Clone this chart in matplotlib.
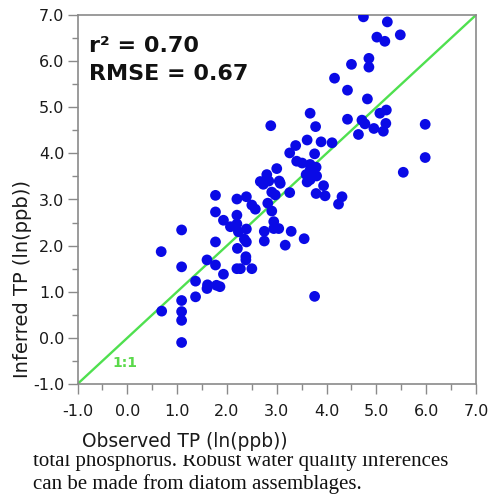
import matplotlib
matplotlib.use("Agg")
import matplotlib.pyplot as plt
from matplotlib.patches import Rectangle
from matplotlib.ticker import MultipleLocator, FormatStrFormatter

plt.rcParams['axes.unicode_minus'] = False
plt.rcParams['font.family'] = ['DejaVu Sans']

# Observed vs inferred TP (ln(ppb))
observed = [4.74, 5.22, 5.01, 5.17, 5.48, 4.85, 4.50, 4.85, 4.16, 4.42,
            4.82, 3.67, 4.42, 4.71, 5.07, 5.20, 5.19, 5.98, 3.78, 4.77,
            4.95, 5.14, 4.64, 2.88, 3.61, 3.89, 4.11, 5.98, 5.54, 3.38,
            3.26, 3.76, 3.40, 3.51, 3.67, 3.79, 3.67, 3.00, 2.80, 2.67,
            2.73, 2.84, 3.05, 3.07, 3.59, 3.80, 3.67, 3.61, 3.94, 3.26,
            2.90, 2.97, 3.79, 3.97, 4.31, 4.24, 1.77, 2.20, 2.39, 2.50,
            2.57, 2.82, 2.90, 1.77, 2.20, 1.93, 2.94, 2.94, 3.04, 2.07,
            2.20, 2.23, 2.39, 2.75, 2.75, 3.29, 3.17, 3.55, 1.09, 2.35,
            2.39, 2.21, 1.77, 0.68, 2.38, 2.38, 1.60, 1.77, 1.09, 1.93,
            2.20, 2.27, 2.50, 1.37, 1.61, 1.60, 1.79, 1.86, 1.37, 1.09,
            0.69, 1.09, 1.09, 1.09, 3.76]
inferred = [6.96, 6.85, 6.52, 6.43, 6.57, 6.06, 5.93, 5.87, 5.63, 5.37,
            5.18, 4.87, 4.74, 4.72, 4.87, 4.94, 4.65, 4.63, 4.58, 4.64,
            4.54, 4.48, 4.41, 4.60, 4.29, 4.25, 4.23, 3.91, 3.59, 4.17,
            4.01, 3.99, 3.83, 3.79, 3.76, 3.70, 3.64, 3.67, 3.54, 3.39,
            3.33, 3.40, 3.40, 3.35, 3.54, 3.51, 3.43, 3.38, 3.30, 3.15,
            3.16, 3.10, 3.13, 3.08, 3.06, 2.90, 3.09, 3.01, 3.06, 2.88,
            2.79, 2.92, 2.75, 2.73, 2.66, 2.55, 2.52, 2.37, 2.37, 2.41,
            2.47, 2.30, 2.36, 2.31, 2.10, 2.31, 2.01, 2.15, 2.34, 2.14,
            2.08, 1.94, 2.08, 1.87, 1.76, 1.69, 1.69, 1.58, 1.54, 1.38,
            1.50, 1.50, 1.50, 1.23, 1.15, 1.07, 1.14, 1.11, 0.89, 0.81,
            0.58, 0.57, 0.38, -0.10, 0.90]

axis_limits = [-1.0, 7.0]
stats_lines = ["r\u00b2 = 0.70", "RMSE = 0.67"]
x_label = "Observed TP (ln(ppb))"
y_label = "Inferred TP (ln(ppb))"
caption = ["total phosphorus. Robust water quality inferences",
           "can be made from diatom assemblages."]

W, H = 490, 494
fig = plt.figure(figsize=(W / 100, H / 100), dpi=100)
ax = fig.add_axes([77.5 / W, 1 - 384 / H, 398.5 / W, 369 / H])

gray = '#8a8a8a'
ax.plot(axis_limits, axis_limits, color='#4fe04f', lw=1.7, zorder=2)
ax.scatter(observed, inferred, s=60, color='#0a0ae6', edgecolors='none', zorder=3)

ax.set_xlim(axis_limits)
ax.set_ylim(axis_limits)
for sp in ax.spines.values():
    sp.set_color(gray)
    sp.set_linewidth(1.2)

for a in (ax.xaxis, ax.yaxis):
    a.set_major_locator(MultipleLocator(1.0))
    a.set_minor_locator(MultipleLocator(0.5))
    a.set_major_formatter(FormatStrFormatter('%.1f'))
ax.tick_params(which='major', length=7.5, width=1.0, color=gray,
               labelsize=11.5, labelcolor='#1a1a1a', direction='out')
ax.tick_params(which='minor', length=4.0, width=1.0, color=gray, direction='out')
ax.tick_params(axis='x', which='major', pad=7)
ax.tick_params(axis='y', which='major', pad=2)

fig.text(89 / W, 1 - 52 / H, stats_lines[0], fontsize=16, fontweight='bold',
         ha='left', va='baseline', color='#111111')
fig.text(89 / W, 1 - 80 / H, stats_lines[1], fontsize=16, fontweight='bold',
         ha='left', va='baseline', color='#111111')
fig.text(112 / W, 1 - 367 / H, "1:1", fontsize=10, fontweight='bold',
         ha='left', va='baseline', color='#5ad94a')

fig.text(185 / W, 1 - 447 / H, x_label, fontsize=13.4, ha='center',
         va='baseline', color='#1a1a1a')
fig.text(23 / W, 1 - 279 / H, y_label, fontsize=14, ha='center',
         va='center', rotation=90, color='#1a1a1a')

clip = Rectangle((0, 0), 1, 1 - 455 / H, transform=fig.transFigure,
                 facecolor='none', edgecolor='none')
fig.add_artist(clip)
for i, line in enumerate(caption):
    t = fig.text(33 / W, 1 - (466 + 23 * i) / H, line, fontsize=15,
                 family='Liberation Serif', ha='left', va='baseline',
                 color='#111111')
    t.set_clip_path(clip)

fig.savefig('out.png', dpi=100)
